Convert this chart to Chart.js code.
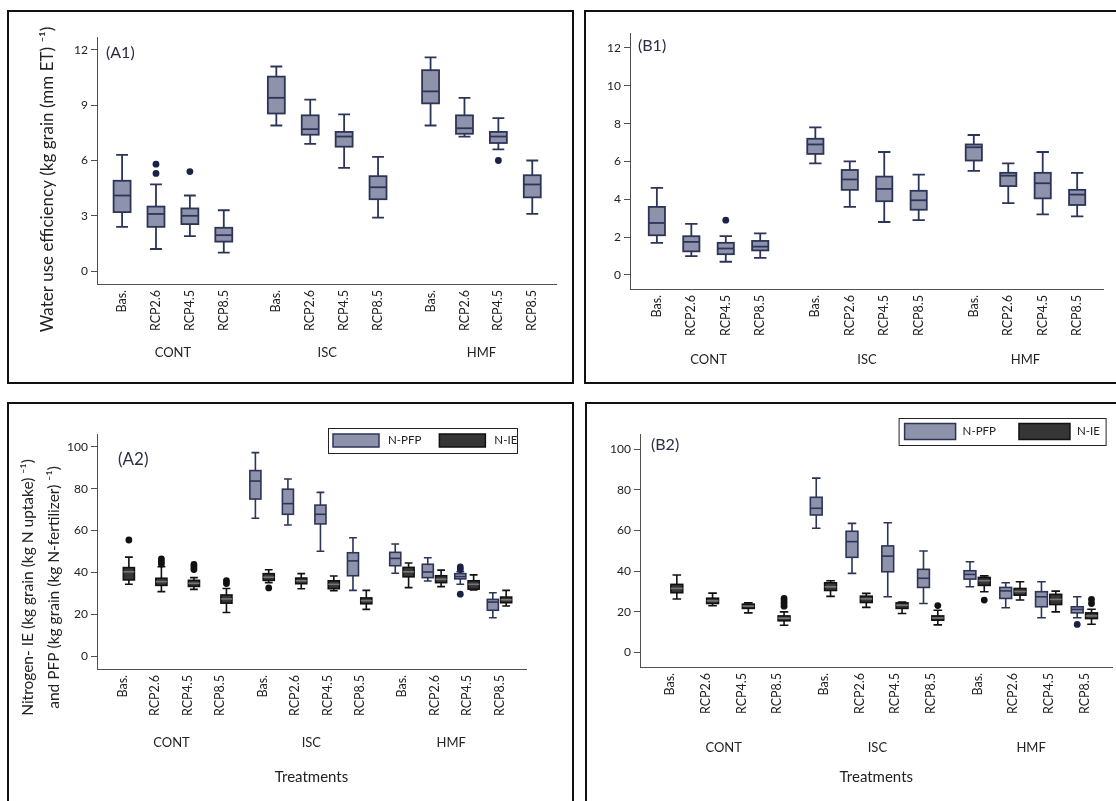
<!DOCTYPE html>
<html><head><meta charset="utf-8">
<script src="https://cdn.jsdelivr.net/npm/chart.js@4.4.1/dist/chart.umd.min.js"></script>
<style>
html,body{margin:0;padding:0;background:#fff;width:1116px;height:801px;overflow:hidden;position:relative}
.frame{position:absolute;border:2px solid #111;box-sizing:border-box}
canvas{position:absolute}
</style></head><body>
<div class="frame" style="left:7px;top:10px;width:567px;height:374px"></div>
<div class="frame" style="left:584px;top:10px;width:545px;height:374px"></div>
<div class="frame" style="left:7px;top:402px;width:567px;height:420px"></div>
<div class="frame" style="left:585px;top:402px;width:545px;height:420px"></div>
<canvas id="cA1" width="561" height="369" style="left:10px;top:12px"></canvas>
<canvas id="cB1" width="529" height="369" style="left:587px;top:12px"></canvas>
<canvas id="cA2" width="561" height="396" style="left:10px;top:405px"></canvas>
<canvas id="cB2" width="528" height="396" style="left:588px;top:405px"></canvas>
<script>
// ---------- categories ----------
const groups = ['CONT', 'ISC', 'HMF'];
const scenarios = ['Bas.', 'RCP2.6', 'RCP4.5', 'RCP8.5'];
const seriesNames = ['N-PFP', 'N-IE'];
const xTitleText = 'Treatments';
const a1Title = ['Water use efficiency (kg grain (mm ET) \u207B\u00B9)'];
const a2Title = ['Nitrogen- IE (kg grain (kg N uptake) \u207B\u00B9)', 'and PFP (kg grain (kg N-fertilizer) \u207B\u00B9)'];
const panelNames = ['(A1)', '(B1)', '(A2)', '(B2)'];

// ---------- A1 : water use efficiency ----------
const a1Max = [6.3, 4.7, 4.1, 3.3, 11.1, 9.3, 8.5, 6.2, 11.6, 9.4, 8.3, 6.0];
const a1Q3  = [4.9, 3.5, 3.4, 2.35, 10.55, 8.45, 7.55, 5.15, 10.9, 8.45, 7.55, 5.2];
const a1Med = [4.1, 3.1, 3.0, 1.95, 9.4, 7.7, 7.3, 4.55, 9.75, 7.75, 7.3, 4.7];
const a1Q1  = [3.2, 2.4, 2.55, 1.6, 8.55, 7.4, 6.75, 3.9, 9.1, 7.45, 6.95, 4.0];
const a1Min = [2.4, 1.2, 1.9, 1.0, 7.9, 6.9, 5.6, 2.9, 7.9, 7.3, 6.6, 3.1];
const a1Out = [[], [5.3, 5.8], [5.4], [], [], [], [], [], [], [], [6.0], []];
const a1YTicks = [0, 3, 6, 9, 12];

// ---------- B1 : water use efficiency ----------
const b1Max = [4.6, 2.7, 2.05, 2.2, 7.8, 6.0, 6.5, 5.3, 7.4, 5.9, 6.5, 5.4];
const b1Q3  = [3.6, 2.05, 1.7, 1.8, 7.2, 5.55, 5.2, 4.45, 6.9, 5.4, 5.4, 4.5];
const b1Med = [2.75, 1.75, 1.4, 1.5, 6.9, 5.05, 4.55, 3.95, 6.75, 5.25, 4.85, 4.25];
const b1Q1  = [2.1, 1.25, 1.1, 1.3, 6.4, 4.5, 3.9, 3.45, 6.05, 4.7, 4.05, 3.7];
const b1Min = [1.7, 1.0, 0.7, 0.9, 5.9, 3.6, 2.8, 2.9, 5.5, 3.8, 3.2, 3.1];
const b1Out = [[], [], [2.9], [], [], [], [], [], [], [], [], []];
const b1YTicks = [0, 2, 4, 6, 8, 10, 12];

// ---------- A2 : N-PFP ----------
const a2pMax = [null, null, null, null, 97.3, 84.7, 78.3, 56.6, 53.6, 47.0, 40.3, 30.3];
const a2pQ3  = [null, null, null, null, 88.7, 79.8, 72.2, 49.4, 49.6, 43.9, 39.4, 27.1];
const a2pMed = [null, null, null, null, 83.7, 72.9, 67.8, 45.5, 46.7, 40.2, 38.0, 25.8];
const a2pQ1  = [null, null, null, null, 75.1, 67.8, 63.2, 38.4, 43.2, 37.5, 36.9, 21.9];
const a2pMin = [null, null, null, null, 65.9, 62.7, 50.1, 31.4, 39.6, 35.9, 34.3, 18.3];
const a2pOut = [[], [], [], [], [], [], [], [], [], [], [42.6, 41.4, 29.6], []];
// ---------- A2 : N-IE ----------
const a2iMax = [47.3, 42.7, 37.5, 32.3, 41.3, 39.4, 38.3, 31.4, 44.5, 41.1, 38.8, 31.4];
const a2iQ3  = [42.3, 37.2, 36.2, 29.2, 39.4, 37.3, 36.0, 27.8, 42.4, 38.4, 36.0, 28.2];
const a2iMed = [40.3, 35.6, 34.8, 27.3, 37.7, 36.0, 34.3, 26.5, 40.3, 36.7, 34.3, 26.9];
const a2iQ1  = [36.4, 33.8, 33.3, 25.3, 36.2, 34.6, 32.2, 25.0, 37.9, 35.1, 32.0, 25.5];
const a2iMin = [34.3, 30.8, 31.9, 20.8, 35.1, 32.2, 31.2, 22.3, 32.7, 33.2, 31.6, 23.9];
const a2iOut = [[55.5], [46.5, 45.2, 44.0], [43.8, 42.6, 41.4], [36.0, 34.7], [32.6], [], [], [], [], [], [], []];
const a2YTicks = [0, 20, 40, 60, 80, 100];

// ---------- B2 : N-PFP ----------
const b2pMax = [null, null, null, null, 85.7, 63.5, 63.8, 49.9, 44.6, 34.3, 34.8, 27.4];
const b2pQ3  = [null, null, null, null, 76.3, 59.6, 52.4, 40.9, 40.2, 32.0, 29.9, 22.5];
const b2pMed = [null, null, null, null, 70.9, 54.5, 47.4, 36.5, 38.4, 30.3, 27.4, 21.2];
const b2pQ1  = [null, null, null, null, 67.6, 46.8, 39.7, 32.0, 36.1, 26.6, 22.5, 19.5];
const b2pMin = [null, null, null, null, 61.1, 38.9, 27.4, 24.1, 32.3, 22.0, 17.1, 17.1];
const b2pOut = [[], [], [], [], [], [], [], [], [], [], [], [13.8]];
// ---------- B2 : N-IE ----------
const b2iMax = [38.1, 29.2, 24.4, 20.0, 35.3, 29.1, 24.8, 20.8, 37.7, 34.8, 30.2, 21.3];
const b2iQ3  = [33.5, 26.7, 23.8, 18.0, 34.3, 27.7, 24.4, 18.0, 36.9, 31.5, 28.6, 19.5];
const b2iMed = [31.5, 25.4, 22.8, 16.9, 32.3, 26.4, 23.3, 17.0, 35.3, 30.0, 26.1, 18.0];
const b2iQ1  = [29.4, 24.1, 21.7, 15.6, 30.5, 24.6, 21.7, 15.9, 33.0, 28.2, 23.6, 16.7];
const b2iMin = [26.3, 23.0, 19.5, 13.4, 27.6, 22.2, 19.2, 13.6, 29.9, 25.8, 20.0, 13.9];
const b2iOut = [[], [], [], [26.6, 25.3, 24.1, 22.8], [], [], [], [23.1], [25.8], [], [], [26.1, 24.1]];
const b2YTicks = [0, 20, 40, 60, 80, 100];

// ---------- styling ----------
const FONT = 'Lato, "Open Sans", sans-serif';
const AXIS = '#505050';
const TXT = '#222222';
const PFP = {fill: '#8e92aa', stroke: '#2c3558', med: '#2c3558', dot: '#1b2246'};
const IE  = {fill: '#363636', stroke: '#111111', med: '#777777', dot: '#111111'};

// ---------- plugins ----------
const boxPlugin = {
  id: 'boxes',
  beforeDatasetsDraw(chart) {
    const ctx = chart.ctx, xs = chart.scales.x, ys = chart.scales.y;
    chart.data.datasets.forEach(ds => {
      const b = ds.box;
      if (!b) return;
      b.med.forEach((m, i) => {
        if (m == null) return;
        const xv = b.pos[i] + b.off;
        const xc = xs.getPixelForValue(xv);
        const hw = xs.getPixelForValue(xv + b.width / 2) - xc;
        const cw = xs.getPixelForValue(xv + b.cap / 2) - xc;
        const yMax = ys.getPixelForValue(b.max[i]), yQ3 = ys.getPixelForValue(b.q3[i]);
        const yMed = ys.getPixelForValue(m), yQ1 = ys.getPixelForValue(b.q1[i]), yMin = ys.getPixelForValue(b.min[i]);
        ctx.save();
        ctx.lineWidth = b.lw; ctx.strokeStyle = b.stroke; ctx.lineCap = 'butt';
        ctx.beginPath();
        ctx.moveTo(xc, yQ3); ctx.lineTo(xc, yMax);
        ctx.moveTo(xc - cw, yMax); ctx.lineTo(xc + cw, yMax);
        ctx.moveTo(xc, yQ1); ctx.lineTo(xc, yMin);
        ctx.moveTo(xc - cw, yMin); ctx.lineTo(xc + cw, yMin);
        ctx.stroke();
        ctx.fillStyle = b.fill;
        ctx.fillRect(xc - hw, yQ3, 2 * hw, yQ1 - yQ3);
        ctx.strokeRect(xc - hw, yQ3, 2 * hw, yQ1 - yQ3);
        ctx.strokeStyle = b.medColor;
        ctx.beginPath(); ctx.moveTo(xc - hw, yMed); ctx.lineTo(xc + hw, yMed); ctx.stroke();
        ctx.restore();
      });
    });
  }
};

const annotPlugin = {
  id: 'annot',
  afterDraw(chart, args, o) {
    const ca = chart.chartArea, ctx = chart.ctx;
    if (o.label) {
      ctx.save();
      ctx.font = o.label.size + 'px ' + FONT; ctx.fillStyle = '#2a2d45';
      ctx.textAlign = 'left'; ctx.textBaseline = 'middle';
      ctx.fillText(o.label.text, ca.left + o.label.dx, ca.top + o.label.dy);
      ctx.restore();
    }
    if (o.ytitle) {
      ctx.save();
      ctx.font = o.ytitle.size + 'px ' + FONT; ctx.fillStyle = TXT;
      ctx.translate(ca.left + o.ytitle.dx, (ca.top + ca.bottom) / 2 + o.ytitle.dy);
      ctx.rotate(-Math.PI / 2);
      ctx.textAlign = 'center'; ctx.textBaseline = 'middle';
      o.ytitle.lines.forEach((t, i) => ctx.fillText(t, 0, i * o.ytitle.lh));
      ctx.restore();
    }
    if (o.legend) {
      const L = o.legend;
      const x = ca.right + L.dx - L.w, y = ca.top + L.dy;
      ctx.save();
      ctx.lineWidth = 1; ctx.strokeStyle = '#222';
      ctx.strokeRect(x + 0.5, y + 0.5, L.w, L.h);
      ctx.font = L.size + 'px ' + FONT; ctx.textBaseline = 'middle'; ctx.textAlign = 'left';
      let cx = x + L.pad; const cy = y + L.h / 2;
      chart.data.datasets.filter(d => d.box && d.inLegend).forEach(d => {
        ctx.fillStyle = d.box.fill; ctx.strokeStyle = d.box.stroke; ctx.lineWidth = 1.5;
        ctx.fillRect(cx, cy - L.sh / 2, L.sw, L.sh);
        ctx.strokeRect(cx, cy - L.sh / 2, L.sw, L.sh);
        ctx.fillStyle = '#222';
        ctx.fillText(d.label, cx + L.sw + L.tgap, cy);
        cx += L.sw + L.tgap + ctx.measureText(d.label).width + L.igap;
      });
      ctx.restore();
    }
  }
};
Chart.register(boxPlugin, annotPlugin);

function slotPositions(gap) {
  const p = [];
  groups.forEach((g, gi) => scenarios.forEach((s, si) => p.push(gi * (3 + gap) + si)));
  return p;
}
function groupCenters(gap) { return groups.map((g, gi) => gi * (3 + gap) + 1.5); }

function makeChart(id, cfg) {
  const pos = slotPositions(cfg.gap);
  const centers = groupCenters(cfg.gap);
  const datasets = [];
  cfg.series.forEach(s => {
    const off = s.offset || 0;
    const pts = [];
    s.med.forEach((m, i) => { if (m != null) pts.push({x: pos[i] + off, y: m}); });
    datasets.push({
      label: s.label, data: pts, pointRadius: 0, pointHoverRadius: 0, showLine: false,
      backgroundColor: s.style.fill, borderColor: s.style.stroke, inLegend: !!s.label,
      box: {pos, off, min: s.min, q1: s.q1, med: s.med, q3: s.q3, max: s.max,
            width: cfg.boxW, cap: cfg.capW, lw: cfg.lw,
            fill: s.style.fill, stroke: s.style.stroke, medColor: s.style.med}
    });
    const outs = [];
    s.out.forEach((arr, i) => arr.forEach(v => outs.push({x: pos[i] + off, y: v})));
    datasets.push({
      label: (s.label || 'value') + ' outliers', data: outs, pointRadius: cfg.dotR, pointHoverRadius: cfg.dotR,
      pointBackgroundColor: s.style.dot, pointBorderColor: s.style.dot, pointBorderWidth: 0, showLine: false
    });
  });
  return new Chart(document.getElementById(id), {
    type: 'scatter',
    data: {datasets},
    options: {
      responsive: false, animation: false, events: [],
      layout: {padding: cfg.padding},
      plugins: {
        legend: {display: false}, tooltip: {enabled: false},
        annot: {label: cfg.label, ytitle: cfg.ytitle, legend: cfg.legend}
      },
      scales: {
        x: {
          type: 'linear', min: cfg.xMin, max: cfg.xMax, weight: 0,
          afterBuildTicks: sc => { sc.ticks = pos.map(v => ({value: v})); },
          afterFit: sc => { sc.height = cfg.xH; },
          grid: {display: false, drawTicks: false},
          border: {display: true, color: AXIS, width: 1},
          ticks: {autoSkip: false, minRotation: 90, maxRotation: 90, padding: cfg.xPad,
                  font: {family: FONT, size: 12.5}, color: TXT,
                  callback: (v, i) => scenarios[i % scenarios.length]}
        },
        x2: {
          type: 'linear', position: 'bottom', min: cfg.xMin, max: cfg.xMax, weight: 1,
          afterBuildTicks: sc => { sc.ticks = centers.map(v => ({value: v})); },
          afterFit: sc => { sc.height = cfg.x2H; },
          grid: {display: false, drawTicks: false}, border: {display: false},
          ticks: {autoSkip: false, minRotation: 0, maxRotation: 0, padding: cfg.x2Pad,
                  font: {family: FONT, size: 13}, color: TXT,
                  callback: (v, i) => groups[i]},
          title: {display: !!cfg.xTitle, text: cfg.xTitle || '', font: {family: FONT, size: 15},
                  color: TXT, padding: {top: 0, bottom: 5}}
        },
        y: {
          type: 'linear', min: cfg.yMin, max: cfg.yMax,
          afterBuildTicks: sc => { sc.ticks = cfg.yTicks.map(v => ({value: v})); },
          afterFit: sc => { sc.width = cfg.yW; },
          grid: {display: true, drawOnChartArea: false, drawTicks: true, tickLength: 6, color: AXIS},
          border: {display: true, color: AXIS, width: 1},
          ticks: {padding: 3, font: {family: FONT, size: 12}, color: TXT}
        }
      }
    }
  });
}

makeChart('cA1', {
  gap: 1.55, xMin: -0.74, xMax: 12.8, yMin: -0.7, yMax: 12.7, yTicks: a1YTicks,
  padding: {left: 0, top: 25, right: 15, bottom: 9}, yW: 87, xH: 58, x2H: 30, xPad: 6, x2Pad: 3,
  boxW: 0.5, capW: 0.35, lw: 1.8, dotR: 3.4,
  label: {text: panelNames[0], dx: 9, dy: 16, size: 16},
  ytitle: {lines: a1Title, dx: -49, dy: 19, size: 17, lh: 26},
  series: [{label: '', style: PFP, min: a1Min, q1: a1Q1, med: a1Med, q3: a1Q3, max: a1Max, out: a1Out}]
});

makeChart('cB1', {
  gap: 1.6, xMin: -0.78, xMax: 12.95, yMin: -0.74, yMax: 12.79, yTicks: b1YTicks,
  padding: {left: 0, top: 21, right: 13, bottom: 4}, yW: 43, xH: 58, x2H: 30, xPad: 6, x2Pad: 5,
  boxW: 0.47, capW: 0.36, lw: 1.8, dotR: 3.4,
  label: {text: panelNames[1], dx: 8, dy: 13, size: 16},
  series: [{label: '', style: PFP, min: b1Min, q1: b1Q1, med: b1Med, q3: b1Q3, max: b1Max, out: b1Out}]
});

makeChart('cA2', {
  gap: 1.3, xMin: -0.79, xMax: 12.4, yMin: -6.2, yMax: 106.2, yTicks: a2YTicks,
  padding: {left: 0, top: 29, right: 45, bottom: 10}, yW: 87, xH: 60, x2H: 62, xPad: 6, x2Pad: 6,
  boxW: 0.34, capW: 0.24, lw: 1.6, dotR: 3.4, xTitle: xTitleText,
  label: {text: panelNames[2], dx: 21, dy: 26, size: 17},
  ytitle: {lines: a2Title, dx: -69, dy: 36, size: 15.5, lh: 26},
  legend: {dx: -9, dy: -6, w: 189, h: 25, pad: 5, sw: 46, sh: 13, tgap: 9, igap: 18, size: 11.5},
  series: [
    {label: seriesNames[0], style: PFP, offset: -0.22, min: a2pMin, q1: a2pQ1, med: a2pMed, q3: a2pQ3, max: a2pMax, out: a2pOut},
    {label: seriesNames[1], style: IE, offset: 0.19, min: a2iMin, q1: a2iQ1, med: a2iMed, q3: a2iQ3, max: a2iMax, out: a2iOut}
  ]
});

makeChart('cB2', {
  gap: 1.3, xMin: -0.84, xMax: 12.38, yMin: -7.1, yMax: 107.4, yTicks: b2YTicks,
  padding: {left: 0, top: 29, right: 3, bottom: 10}, yW: 52, xH: 60, x2H: 64, xPad: 6, x2Pad: 13,
  boxW: 0.33, capW: 0.24, lw: 1.6, dotR: 3.4, xTitle: xTitleText,
  label: {text: panelNames[3], dx: 11, dy: 11, size: 16},
  legend: {dx: -7, dy: -16, w: 207, h: 27, pad: 6, sw: 51, sh: 16, tgap: 7, igap: 23, size: 11.5},
  series: [
    {label: seriesNames[0], style: PFP, offset: -0.21, min: b2pMin, q1: b2pQ1, med: b2pMed, q3: b2pQ3, max: b2pMax, out: b2pOut},
    {label: seriesNames[1], style: IE, offset: 0.19, min: b2iMin, q1: b2iQ1, med: b2iMed, q3: b2iQ3, max: b2iMax, out: b2iOut}
  ]
});
</script>
</body></html>
